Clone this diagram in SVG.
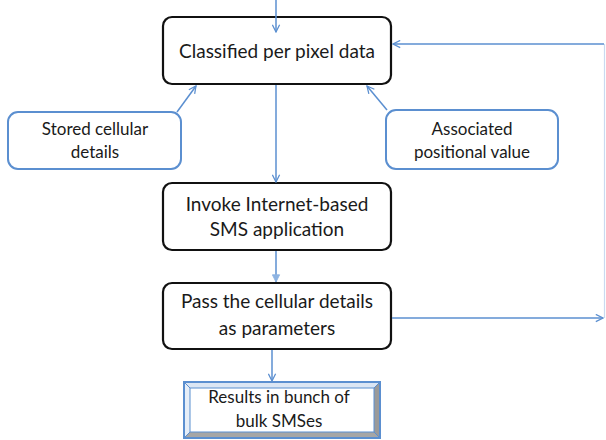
<svg xmlns="http://www.w3.org/2000/svg" width="606" height="440" viewBox="0 0 606 440">
  <defs>
    <marker id="arrow" viewBox="0 0 10 10" refX="9" refY="5" markerWidth="9" markerHeight="9" markerUnits="userSpaceOnUse" orient="auto">
      <path d="M1,1 L9,5 L1,9" fill="none" stroke="#5b8fd0" stroke-width="1.4"/>
    </marker>
    <marker id="arrowSolid" viewBox="0 0 10 10" refX="9" refY="5" markerWidth="9" markerHeight="9" markerUnits="userSpaceOnUse" orient="auto">
      <path d="M1,1 L9,5 L1,9 Z" fill="#8db3e2" stroke="#8db3e2" stroke-width="1"/>
    </marker>
    <style>
      .step { fill: #ffffff; stroke: #111111; stroke-width: 2.2; }
      .input { fill: #ffffff; stroke: #5b8fd0; stroke-width: 2; }
      .label { font-family: "Lato", "Liberation Sans", sans-serif; font-size: 19px; fill: #1a1a1a; text-anchor: middle; }
      .small { font-size: 17px; }
      .link { fill: none; stroke: #5b8fd0; stroke-width: 1.5; }
      .faint { fill: none; stroke: #c9daf0; stroke-width: 1.2; }
    </style>
  </defs>

  <g id="classified">
    <rect class="step" x="163" y="17" width="228" height="67" rx="9"/>
    <text class="label" x="277" y="58">Classified per pixel data</text>
  </g>

  <g id="stored">
    <rect class="input" x="8" y="112" width="173" height="57" rx="10"/>
    <text class="label small" x="95" y="135">Stored cellular</text>
    <text class="label small" x="95" y="158">details</text>
  </g>

  <g id="associated">
    <rect class="input" x="386" y="110" width="172" height="59" rx="10"/>
    <text class="label small" x="472" y="135">Associated</text>
    <text class="label small" x="472" y="158">positional value</text>
  </g>

  <g id="invoke">
    <rect class="step" x="163" y="183" width="228" height="67" rx="9"/>
    <text class="label" x="277" y="211">Invoke Internet-based</text>
    <text class="label" x="277" y="236">SMS application</text>
  </g>

  <g id="pass">
    <rect class="step" x="163" y="283" width="228" height="66" rx="9"/>
    <text class="label" x="277" y="308">Pass the cellular details</text>
    <text class="label" x="277" y="335">as parameters</text>
  </g>

  <g id="results">
    <!-- bevelled frame -->
    <rect x="184" y="382" width="196" height="56" fill="#ffffff" stroke="#5b8fd0" stroke-width="2"/>
    <polygon points="184,382 380,382 374,388 190,388" fill="#dbe6f4"/>
    <polygon points="184,382 190,388 190,432 184,438" fill="#e6eef8"/>
    <polygon points="380,382 380,438 374,432 374,388" fill="#9a9a9a"/>
    <polygon points="184,438 380,438 374,432 190,432" fill="#a6a6a6"/>
    <rect x="190" y="388" width="184" height="44" fill="#ffffff" stroke="#5b8fd0" stroke-width="1"/>
    <line x1="184" y1="382" x2="190" y2="388" stroke="#5b8fd0" stroke-width="1"/>
    <line x1="380" y1="382" x2="374" y2="388" stroke="#5b8fd0" stroke-width="1"/>
    <line x1="184" y1="438" x2="190" y2="432" stroke="#5b8fd0" stroke-width="1"/>
    <line x1="380" y1="438" x2="374" y2="432" stroke="#5b8fd0" stroke-width="1"/>
    <rect x="184" y="382" width="196" height="56" fill="none" stroke="#5b8fd0" stroke-width="2"/>
    <text class="label small" x="279" y="403">Results in bunch of</text>
    <text class="label small" x="279" y="427">bulk SMSes</text>
  </g>

  <!-- connectors, drawn over the boxes so the entry arrow shows inside the first box -->
  <g id="connectors">
    <line class="link" x1="276" y1="0" x2="276" y2="32" marker-end="url(#arrow)"/>
    <line class="link" x1="276" y1="85" x2="276" y2="182" marker-end="url(#arrow)"/>
    <line class="link" x1="276" y1="251" x2="276" y2="282" stroke="#8db3e2" marker-end="url(#arrowSolid)"/>
    <line class="link" x1="272" y1="350" x2="272" y2="381" marker-end="url(#arrow)"/>
    <line class="link" x1="177" y1="112" x2="196" y2="86" marker-end="url(#arrow)"/>
    <line class="link" x1="387" y1="110" x2="367" y2="86" marker-end="url(#arrow)"/>
    <!-- feedback loop on the right -->
    <line class="link" x1="392" y1="318" x2="603" y2="318" marker-end="url(#arrow)"/>
    <line class="faint" x1="604.5" y1="318" x2="604.5" y2="44"/>
    <line class="link" x1="604" y1="44" x2="393" y2="44" marker-end="url(#arrow)"/>
  </g>
</svg>
